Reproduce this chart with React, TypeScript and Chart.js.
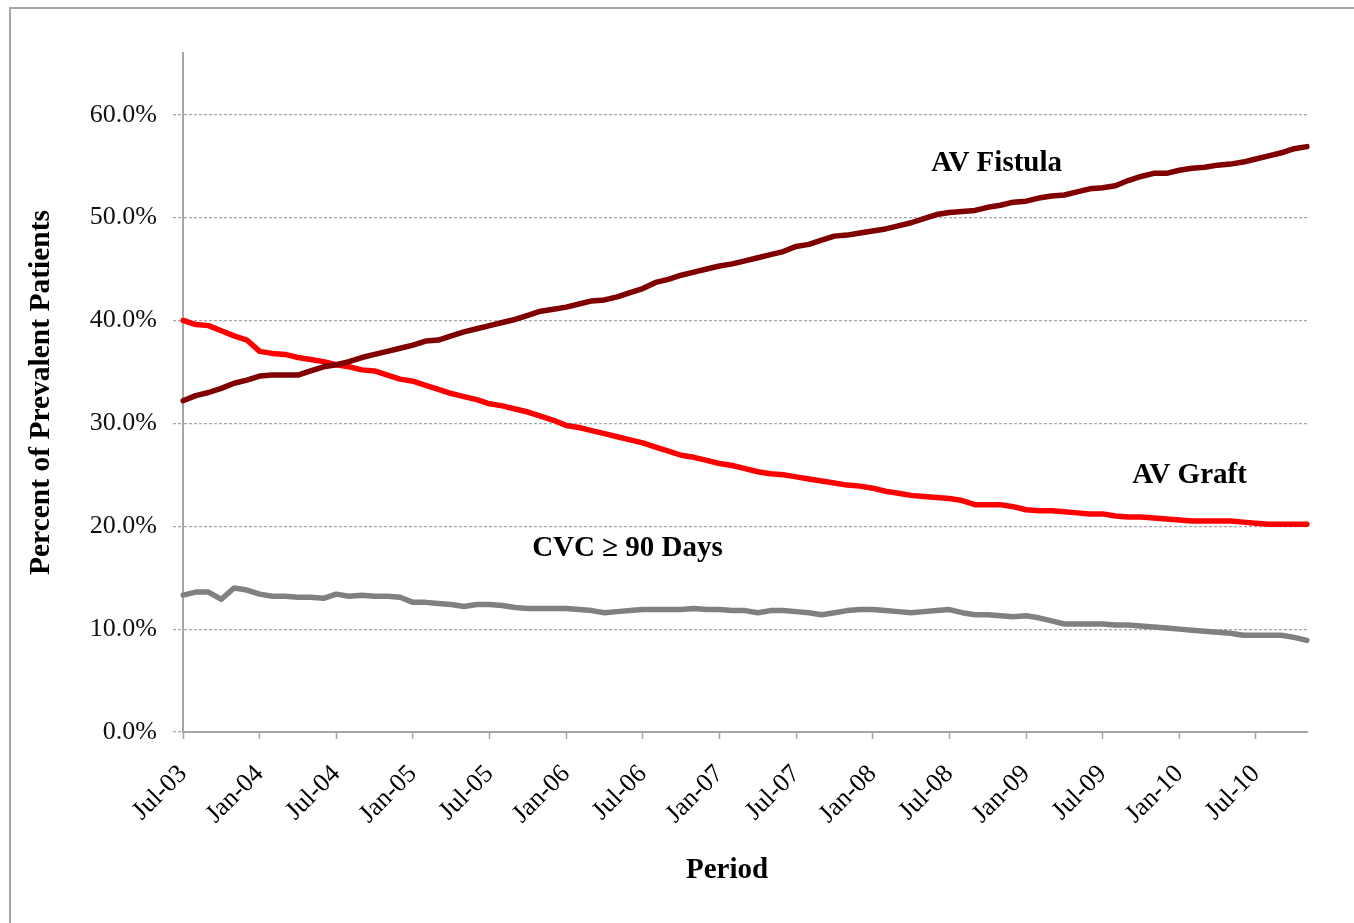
import React, { useEffect, useRef } from 'react';
import { Chart, registerables } from 'chart.js';

Chart.register(...registerables);

const MONTHS: string[] = [
  'Jul-03', 'Aug-03', 'Sep-03', 'Oct-03', 'Nov-03', 'Dec-03',
  'Jan-04', 'Feb-04', 'Mar-04', 'Apr-04', 'May-04', 'Jun-04',
  'Jul-04', 'Aug-04', 'Sep-04', 'Oct-04', 'Nov-04', 'Dec-04',
  'Jan-05', 'Feb-05', 'Mar-05', 'Apr-05', 'May-05', 'Jun-05',
  'Jul-05', 'Aug-05', 'Sep-05', 'Oct-05', 'Nov-05', 'Dec-05',
  'Jan-06', 'Feb-06', 'Mar-06', 'Apr-06', 'May-06', 'Jun-06',
  'Jul-06', 'Aug-06', 'Sep-06', 'Oct-06', 'Nov-06', 'Dec-06',
  'Jan-07', 'Feb-07', 'Mar-07', 'Apr-07', 'May-07', 'Jun-07',
  'Jul-07', 'Aug-07', 'Sep-07', 'Oct-07', 'Nov-07', 'Dec-07',
  'Jan-08', 'Feb-08', 'Mar-08', 'Apr-08', 'May-08', 'Jun-08',
  'Jul-08', 'Aug-08', 'Sep-08', 'Oct-08', 'Nov-08', 'Dec-08',
  'Jan-09', 'Feb-09', 'Mar-09', 'Apr-09', 'May-09', 'Jun-09',
  'Jul-09', 'Aug-09', 'Sep-09', 'Oct-09', 'Nov-09', 'Dec-09',
  'Jan-10', 'Feb-10', 'Mar-10', 'Apr-10', 'May-10', 'Jun-10',
  'Jul-10', 'Aug-10', 'Sep-10', 'Oct-10', 'Nov-10',
];

// Percent of prevalent patients, monthly
const AV_FISTULA: number[] = [
  32.2, 32.7, 33.0, 33.4, 33.9, 34.2, 34.6, 34.7, 34.7, 34.7,
  35.1, 35.5, 35.7, 36.0, 36.4, 36.7, 37.0, 37.3, 37.6, 38.0,
  38.1, 38.5, 38.9, 39.2, 39.5, 39.8, 40.1, 40.5, 40.9, 41.1,
  41.3, 41.6, 41.9, 42.0, 42.3, 42.7, 43.1, 43.7, 44.0, 44.4,
  44.7, 45.0, 45.3, 45.5, 45.8, 46.1, 46.4, 46.7, 47.2, 47.4,
  47.8, 48.2, 48.3, 48.5, 48.7, 48.9, 49.2, 49.5, 49.9, 50.3,
  50.5, 50.6, 50.7, 51.0, 51.2, 51.5, 51.6, 51.9, 52.1, 52.2,
  52.5, 52.8, 52.9, 53.1, 53.6, 54.0, 54.3, 54.3, 54.6, 54.8,
  54.9, 55.1, 55.2, 55.4, 55.7, 56.0, 56.3, 56.7, 56.9,
];

const AV_GRAFT: number[] = [
  40.0, 39.6, 39.5, 39.0, 38.5, 38.1, 37.0, 36.8, 36.7, 36.4,
  36.2, 36.0, 35.7, 35.5, 35.2, 35.1, 34.7, 34.3, 34.1, 33.7,
  33.3, 32.9, 32.6, 32.3, 31.9, 31.7, 31.4, 31.1, 30.7, 30.3,
  29.8, 29.6, 29.3, 29.0, 28.7, 28.4, 28.1, 27.7, 27.3, 26.9,
  26.7, 26.4, 26.1, 25.9, 25.6, 25.3, 25.1, 25.0, 24.8, 24.6,
  24.4, 24.2, 24.0, 23.9, 23.7, 23.4, 23.2, 23.0, 22.9, 22.8,
  22.7, 22.5, 22.1, 22.1, 22.1, 21.9, 21.6, 21.5, 21.5, 21.4,
  21.3, 21.2, 21.2, 21.0, 20.9, 20.9, 20.8, 20.7, 20.6, 20.5,
  20.5, 20.5, 20.5, 20.4, 20.3, 20.2, 20.2, 20.2, 20.2,
];

const CVC_90_DAYS: number[] = [
  13.3, 13.6, 13.6, 12.9, 14.0, 13.8, 13.4, 13.2, 13.2, 13.1,
  13.1, 13.0, 13.4, 13.2, 13.3, 13.2, 13.2, 13.1, 12.6, 12.6,
  12.5, 12.4, 12.2, 12.4, 12.4, 12.3, 12.1, 12.0, 12.0, 12.0,
  12.0, 11.9, 11.8, 11.6, 11.7, 11.8, 11.9, 11.9, 11.9, 11.9,
  12.0, 11.9, 11.9, 11.8, 11.8, 11.6, 11.8, 11.8, 11.7, 11.6,
  11.4, 11.6, 11.8, 11.9, 11.9, 11.8, 11.7, 11.6, 11.7, 11.8,
  11.9, 11.6, 11.4, 11.4, 11.3, 11.2, 11.3, 11.1, 10.8, 10.5,
  10.5, 10.5, 10.5, 10.4, 10.4, 10.3, 10.2, 10.1, 10.0, 9.9,
  9.8, 9.7, 9.6, 9.4, 9.4, 9.4, 9.4, 9.2, 8.9,
];

const Y_TICKS: number[] = [0, 10, 20, 30, 40, 50, 60];
const Y_MAX = 66;

const Y_TITLE = 'Percent of Prevalent Patients';
const X_TITLE = 'Period';

// Series name labels drawn inside the plot (anchored in data coordinates)
const SERIES_NOTES: { text: string; index: number; value: number }[] = [
  { text: 'AV Fistula', index: 63.7, value: 55.3 },
  { text: 'AV Graft', index: 78.8, value: 24.9 },
  { text: 'CVC \u2265 90 Days', index: 34.8, value: 17.8 },
];

const SERIF = '"Liberation Serif", "Times New Roman", serif';
const AXIS_GRAY = '#a6a6a6';

const notesPlugin = {
  id: 'seriesNotes',
  afterDraw(chart: any) {
    const { ctx, scales } = chart;
    const xs = scales.x;
    const ys = scales.y;
    ctx.save();
    ctx.fillStyle = '#000';
    ctx.textAlign = 'center';
    ctx.textBaseline = 'middle';
    ctx.font = `bold 29px ${SERIF}`;
    for (const n of SERIES_NOTES) {
      ctx.fillText(n.text, xs.getPixelForValue(n.index), ys.getPixelForValue(n.value));
    }
    ctx.font = `bold 29px ${SERIF}`;
    ctx.fillText(X_TITLE, (xs.left + xs.right) / 2 - 18, xs.bottom - 52);
    ctx.restore();
  },
};

export default function App() {
  const ref = useRef<HTMLCanvasElement | null>(null);

  useEffect(() => {
    if (!ref.current) return;
    Chart.defaults.font.family = SERIF;
    const chart = new Chart(ref.current, {
      type: 'line',
      data: {
        labels: MONTHS,
        datasets: [
          {
            label: 'AV Fistula',
            data: AV_FISTULA,
            borderColor: '#800000',
            borderWidth: 5.5,
          },
          {
            label: 'AV Graft',
            data: AV_GRAFT,
            borderColor: '#ff0000',
            borderWidth: 5.5,
          },
          {
            label: 'CVC \u2265 90 Days',
            data: CVC_90_DAYS,
            borderColor: '#808080',
            borderWidth: 5.5,
          },
        ],
      },
      options: {
        responsive: false,
        animation: false,
        layout: { padding: { top: 53, right: 47, left: 0, bottom: 0 } },
        elements: {
          point: { radius: 0, hoverRadius: 0 },
          line: { tension: 0, borderCapStyle: 'round', borderJoinStyle: 'round', fill: false },
        },
        plugins: {
          legend: { display: false },
          tooltip: { enabled: false },
        },
        scales: {
          x: {
            type: 'category',
            offset: false,
            afterFit: (s: any) => {
              s.height = 191;
            },
            grid: {
              display: true,
              drawOnChartArea: false,
              drawTicks: true,
              tickLength: 7,
              tickColor: AXIS_GRAY,
              tickWidth: 1.5,
            },
            border: { display: true, color: AXIS_GRAY, width: 2 },
            ticks: {
              autoSkip: false,
              maxRotation: 45,
              minRotation: 45,
              padding: 20,
              color: '#000',
              font: { size: 26, family: SERIF },
              callback: (_v: any, i: number) => (i % 6 === 0 ? MONTHS[i] : null),
            },
            title: { display: false },
          },
          y: {
            min: 0,
            max: Y_MAX,
            afterFit: (s: any) => {
              s.width = 183;
            },
            afterBuildTicks: (s: any) => {
              s.ticks = Y_TICKS.map((v) => ({ value: v }));
            },
            grid: {
              color: (c: any) => (c.tick && c.tick.value === 0 ? 'rgba(0,0,0,0)' : AXIS_GRAY),
              lineWidth: 1.2,
              tickLength: 10,
              tickColor: AXIS_GRAY,
              tickBorderDash: [3, 2],
            },
            border: { display: true, color: AXIS_GRAY, width: 2, dash: [3, 2] },
            ticks: {
              padding: 16,
              color: '#111',
              font: { size: 26, family: SERIF },
              callback: (v: any) => Number(v).toFixed(1) + '%',
            },
            title: {
              display: true,
              text: Y_TITLE,
              color: '#000',
              font: { size: 29.5, weight: 'bold', family: SERIF },
              padding: { top: 24, bottom: 0 },
            },
          },
        },
      },
      plugins: [notesPlugin],
    } as any);
    return () => chart.destroy();
  }, []);

  return (
    <div
      style={{
        position: 'absolute',
        left: 0,
        top: 0,
        width: 1354,
        height: 923,
        overflow: 'hidden',
        background: '#fff',
      }}
    >
      <div
        style={{
          position: 'absolute',
          left: 9,
          top: 7,
          width: 1400,
          height: 1000,
          borderTop: `2px solid ${AXIS_GRAY}`,
          borderLeft: `2px solid ${AXIS_GRAY}`,
        }}
      />
      <canvas
        ref={ref}
        width={1354}
        height={923}
        style={{ position: 'absolute', left: 0, top: 0, width: 1354, height: 923 }}
      />
    </div>
  );
}
